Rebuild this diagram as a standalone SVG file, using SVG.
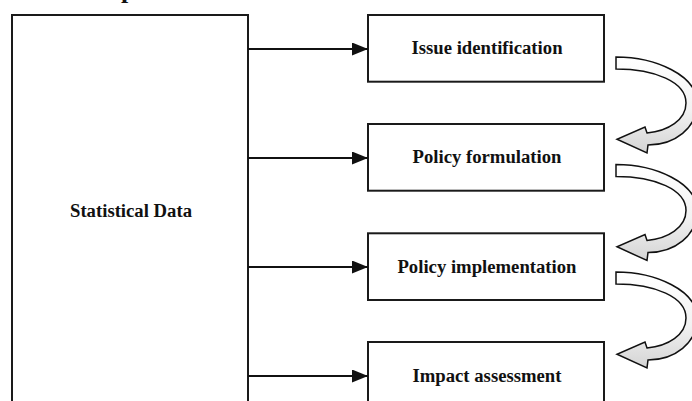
<svg xmlns="http://www.w3.org/2000/svg" width="692" height="401" viewBox="0 0 692 401">
<style>
.box{fill:#fff;stroke:#1a1a1a;stroke-width:2}
.lbl{font-family:"Liberation Serif","Times New Roman",serif;font-weight:bold;font-size:18.7px;fill:#111;text-anchor:middle}
.conn{stroke:#111;stroke-width:2.2;fill:none;marker-end:url(#ah)}
.curve{fill:url(#cg);stroke:#111;stroke-width:1.5;stroke-linejoin:miter}
</style>
<defs>
<marker id="ah" markerUnits="userSpaceOnUse" markerWidth="18" markerHeight="14" refX="16" refY="6.5" orient="auto">
<path d="M0,0 L16,6.5 L0,13 Z" fill="#111"/>
</marker>
<linearGradient id="cg" x1="0" y1="0" x2="0" y2="1">
<stop offset="0" stop-color="#ffffff"/>
<stop offset="0.55" stop-color="#f2f2f2"/>
<stop offset="1" stop-color="#d4d4d4"/>
</linearGradient>
<path id="carrow" d="M616,57 C655,57 697,75 697,103 C697,128 675,145 648,145 L647,153 L617,139.3 L645,127 L647,133 C668,131 686,120 686,103 C686,82 655,69 616,69 Z"/>
</defs>
<text x="121" y="-2" style="font-family:'Liberation Serif','Times New Roman',serif;font-weight:bold;font-size:26px;fill:#111">p</text>
<g id="statistical-data">
<rect class="box" x="12" y="15" width="236" height="400"/>
<text class="lbl" x="131" y="217.3">Statistical Data</text>
</g>
<g id="issue-identification">
<rect class="box" x="368" y="15" width="236" height="66.7"/>
<text class="lbl" x="487" y="54.3">Issue identification</text>
</g>
<g id="policy-formulation">
<rect class="box" x="368" y="124" width="236" height="66.7"/>
<text class="lbl" x="487" y="163.3">Policy formulation</text>
</g>
<g id="policy-implementation">
<rect class="box" x="368" y="233.3" width="236" height="66.7"/>
<text class="lbl" x="487" y="272.5">Policy implementation</text>
</g>
<g id="impact-assessment">
<rect class="box" x="368" y="342" width="236" height="66.7"/>
<text class="lbl" x="487" y="381.5">Impact assessment</text>
</g>
<g id="connectors">
<line class="conn" x1="248" y1="49" x2="368" y2="49"/>
<line class="conn" x1="248" y1="158" x2="368" y2="158"/>
<line class="conn" x1="248" y1="267" x2="368" y2="267"/>
<line class="conn" x1="248" y1="376" x2="368" y2="376"/>
<use href="#carrow" class="curve"/>
<use href="#carrow" class="curve" transform="translate(0,107.5)"/>
<use href="#carrow" class="curve" transform="translate(0,215)"/>
</g>
</svg>
